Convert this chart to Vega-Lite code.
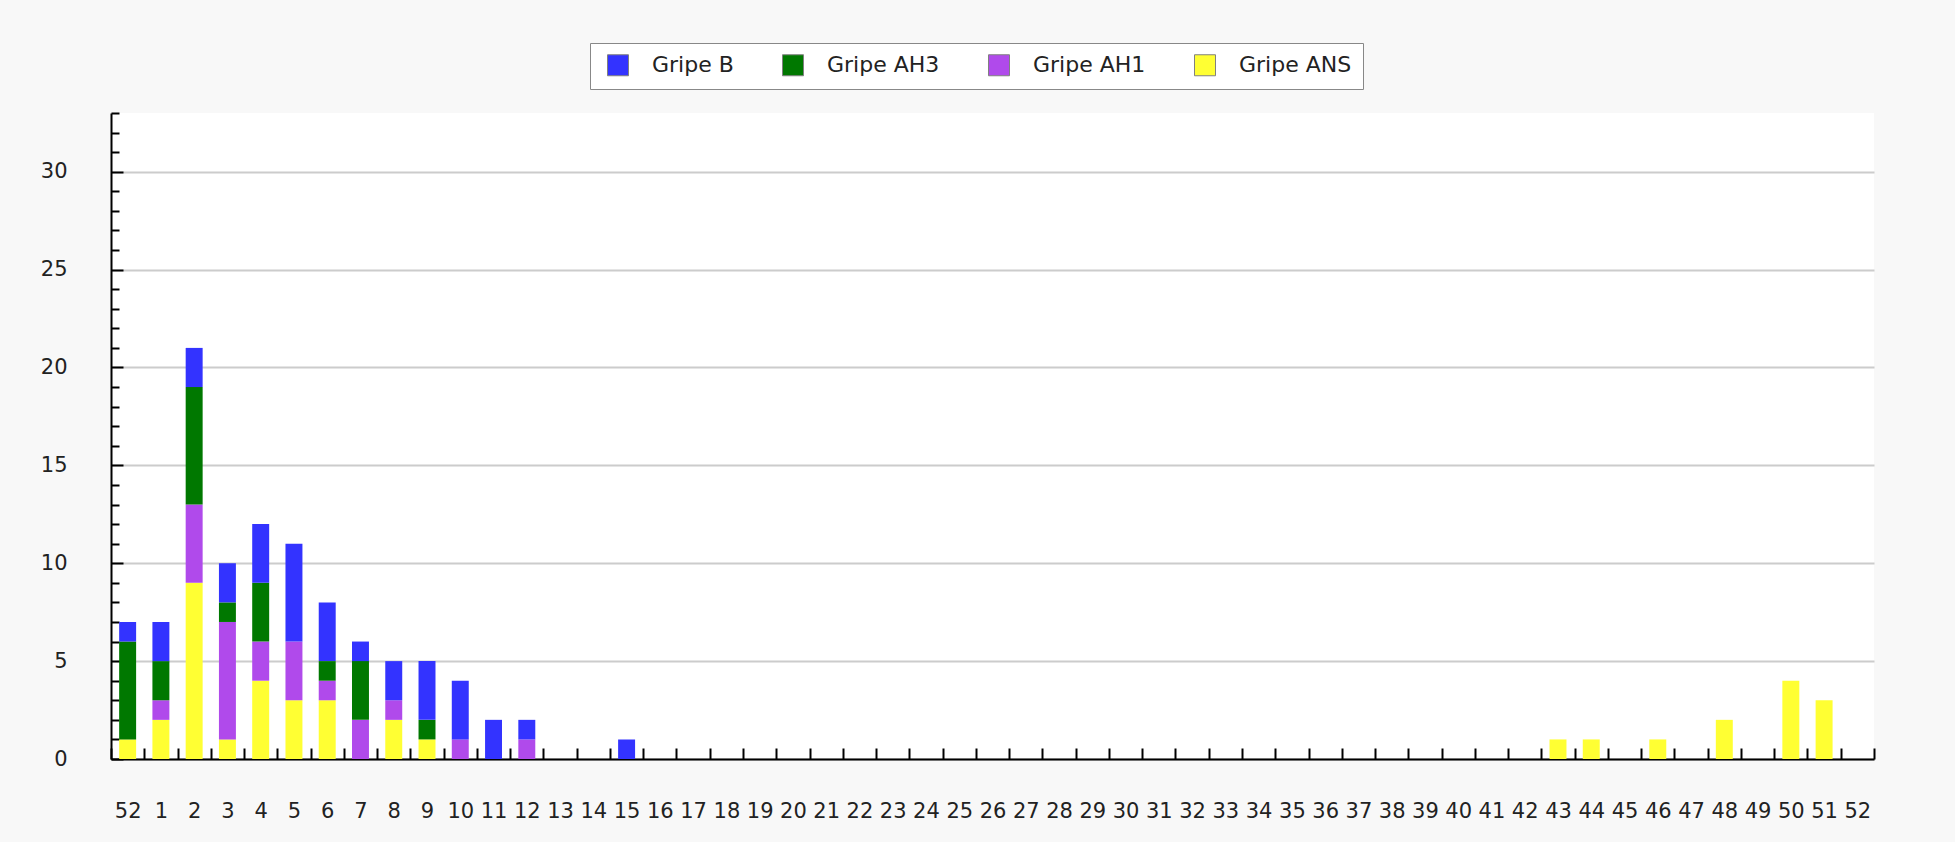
{
  "$schema": "https://vega.github.io/schema/vega-lite/v6.json",
  "width": 1763,
  "height": 646,
  "autosize": {"type": "none"},
  "padding": {"left": 111, "top": 113, "right": 81, "bottom": 83},
  "background": "#f8f8f8",
  "config": {
    "view": {"fill": "#ffffff", "stroke": null},
    "font": "DejaVu Sans",
    "axis": {"labelFont": "DejaVu Sans", "labelColor": "#222222", "domainColor": "#000000", "domainWidth": 2, "tickColor": "#000000", "tickWidth": 2}
  },
  "data": {
    "values": [
      {"semana": "2023-52", "tipo": "Gripe ANS", "casos": 1},
      {"semana": "2023-52", "tipo": "Gripe AH3", "casos": 5},
      {"semana": "2023-52", "tipo": "Gripe B", "casos": 1},
      {"semana": "2024-1", "tipo": "Gripe ANS", "casos": 2},
      {"semana": "2024-1", "tipo": "Gripe AH1", "casos": 1},
      {"semana": "2024-1", "tipo": "Gripe AH3", "casos": 2},
      {"semana": "2024-1", "tipo": "Gripe B", "casos": 2},
      {"semana": "2024-2", "tipo": "Gripe ANS", "casos": 9},
      {"semana": "2024-2", "tipo": "Gripe AH1", "casos": 4},
      {"semana": "2024-2", "tipo": "Gripe AH3", "casos": 6},
      {"semana": "2024-2", "tipo": "Gripe B", "casos": 2},
      {"semana": "2024-3", "tipo": "Gripe ANS", "casos": 1},
      {"semana": "2024-3", "tipo": "Gripe AH1", "casos": 6},
      {"semana": "2024-3", "tipo": "Gripe AH3", "casos": 1},
      {"semana": "2024-3", "tipo": "Gripe B", "casos": 2},
      {"semana": "2024-4", "tipo": "Gripe ANS", "casos": 4},
      {"semana": "2024-4", "tipo": "Gripe AH1", "casos": 2},
      {"semana": "2024-4", "tipo": "Gripe AH3", "casos": 3},
      {"semana": "2024-4", "tipo": "Gripe B", "casos": 3},
      {"semana": "2024-5", "tipo": "Gripe ANS", "casos": 3},
      {"semana": "2024-5", "tipo": "Gripe AH1", "casos": 3},
      {"semana": "2024-5", "tipo": "Gripe B", "casos": 5},
      {"semana": "2024-6", "tipo": "Gripe ANS", "casos": 3},
      {"semana": "2024-6", "tipo": "Gripe AH1", "casos": 1},
      {"semana": "2024-6", "tipo": "Gripe AH3", "casos": 1},
      {"semana": "2024-6", "tipo": "Gripe B", "casos": 3},
      {"semana": "2024-7", "tipo": "Gripe AH1", "casos": 2},
      {"semana": "2024-7", "tipo": "Gripe AH3", "casos": 3},
      {"semana": "2024-7", "tipo": "Gripe B", "casos": 1},
      {"semana": "2024-8", "tipo": "Gripe ANS", "casos": 2},
      {"semana": "2024-8", "tipo": "Gripe AH1", "casos": 1},
      {"semana": "2024-8", "tipo": "Gripe B", "casos": 2},
      {"semana": "2024-9", "tipo": "Gripe ANS", "casos": 1},
      {"semana": "2024-9", "tipo": "Gripe AH3", "casos": 1},
      {"semana": "2024-9", "tipo": "Gripe B", "casos": 3},
      {"semana": "2024-10", "tipo": "Gripe AH1", "casos": 1},
      {"semana": "2024-10", "tipo": "Gripe B", "casos": 3},
      {"semana": "2024-11", "tipo": "Gripe B", "casos": 2},
      {"semana": "2024-12", "tipo": "Gripe AH1", "casos": 1},
      {"semana": "2024-12", "tipo": "Gripe B", "casos": 1},
      {"semana": "2024-15", "tipo": "Gripe B", "casos": 1},
      {"semana": "2024-43", "tipo": "Gripe ANS", "casos": 1},
      {"semana": "2024-44", "tipo": "Gripe ANS", "casos": 1},
      {"semana": "2024-46", "tipo": "Gripe ANS", "casos": 1},
      {"semana": "2024-48", "tipo": "Gripe ANS", "casos": 2},
      {"semana": "2024-50", "tipo": "Gripe ANS", "casos": 4},
      {"semana": "2024-51", "tipo": "Gripe ANS", "casos": 3}
    ]
  },
  "transform": [
    {"calculate": "indexof(['Gripe ANS','Gripe AH1','Gripe AH3','Gripe B'], datum.tipo)", "as": "orden"}
  ],
  "mark": {"type": "bar", "width": {"band": 0.51}},
  "encoding": {
    "x": {
      "field": "semana",
      "type": "ordinal",
      "scale": {
        "domain": ["2023-52","2024-1","2024-2","2024-3","2024-4","2024-5","2024-6","2024-7","2024-8","2024-9","2024-10","2024-11","2024-12","2024-13","2024-14","2024-15","2024-16","2024-17","2024-18","2024-19","2024-20","2024-21","2024-22","2024-23","2024-24","2024-25","2024-26","2024-27","2024-28","2024-29","2024-30","2024-31","2024-32","2024-33","2024-34","2024-35","2024-36","2024-37","2024-38","2024-39","2024-40","2024-41","2024-42","2024-43","2024-44","2024-45","2024-46","2024-47","2024-48","2024-49","2024-50","2024-51","2024-52"],
        "paddingInner": 0,
        "paddingOuter": 0
      },
      "axis": {
        "title": null,
        "labelAngle": 0,
        "labelExpr": "split(datum.value, '-')[1]",
        "labelFontSize": 21,
        "tickBand": "extent",
        "tickSize": -11,
        "labelPadding": 52,
        "grid": false,
        "labelOverlap": false
      }
    },
    "y": {
      "field": "casos",
      "type": "quantitative",
      "aggregate": "sum",
      "stack": "zero",
      "scale": {"domain": [0, 33], "nice": false},
      "axis": {
        "title": null,
        "values": [0,1,2,3,4,5,6,7,8,9,10,11,12,13,14,15,16,17,18,19,20,21,22,23,24,25,26,27,28,29,30,31,32,33],
        "labelExpr": "datum.value % 5 == 0 ? datum.label : ''",
        "labelFontSize": 21,
        "labelPadding": 56,
        "tickSize": {"condition": {"test": "datum.value % 5 == 0", "value": -12}, "value": -8},
        "grid": true,
        "gridColor": "#cccccc",
        "gridWidth": 2,
        "gridOpacity": {"condition": {"test": "datum.value % 5 == 0", "value": 1}, "value": 0},
        "labelOverlap": false
      }
    },
    "color": {
      "field": "tipo",
      "type": "nominal",
      "scale": {
        "domain": ["Gripe B", "Gripe AH3", "Gripe AH1", "Gripe ANS"],
        "range": ["#3333ff", "#007800", "#b04aeb", "#ffff33"]
      },
      "legend": {
        "orient": "none",
        "legendX": 479,
        "legendY": -70,
        "direction": "horizontal",
        "title": null,
        "symbolType": "square",
        "symbolSize": 441,
        "symbolStrokeColor": "#808080",
        "symbolStrokeWidth": 1,
        "symbolOffset": 6,
        "labelFont": "DejaVu Sans",
        "labelFontSize": 22,
        "labelColor": "#222222",
        "labelOffset": 23,
        "columnPadding": 42,
        "padding": 11,
        "fillColor": "#ffffff",
        "strokeColor": "#888888"
      }
    },
    "order": {"field": "orden", "type": "quantitative", "sort": "ascending"}
  }
}
